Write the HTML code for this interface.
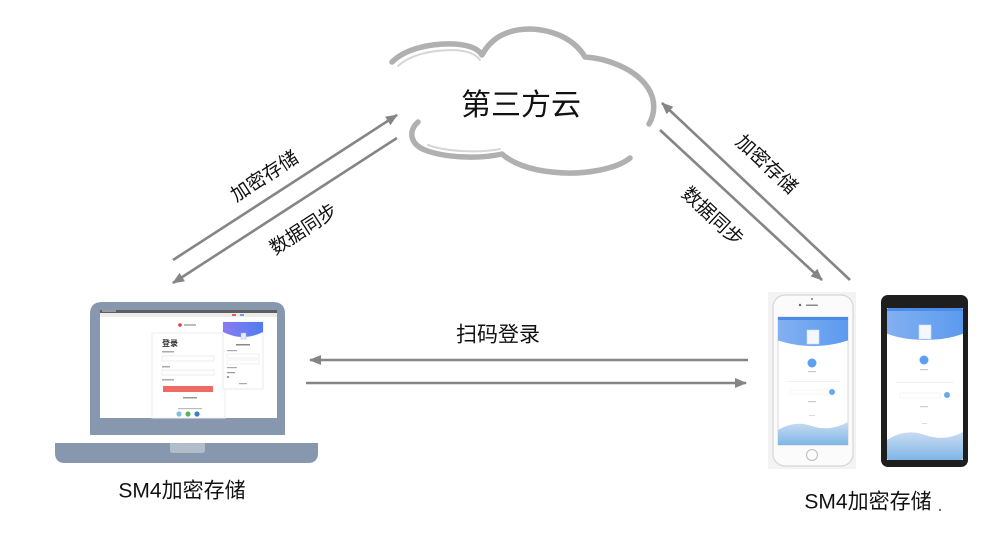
<!DOCTYPE html>
<html>
<head>
<meta charset="utf-8">
<style>
  html,body{margin:0;padding:0;background:#fff;}
  #wrap{position:relative;width:992px;height:554px;overflow:hidden;background:#fff;}
  svg{position:absolute;left:0;top:0;}
  .t{position:absolute;font-family:"Liberation Sans","Noto Sans CJK SC",sans-serif;color:#111;white-space:nowrap;line-height:1;}
  .c{transform:translate(-50%,-50%);}
</style>
</head>
<body>
<div id="wrap">
<svg width="992" height="554" viewBox="0 0 992 554" xmlns="http://www.w3.org/2000/svg">
  <defs>
    <marker id="ah" markerWidth="12" markerHeight="10" refX="11" refY="5" orient="auto" markerUnits="userSpaceOnUse">
      <path d="M0,0 L12,5 L0,10 z" fill="#858585"/>
    </marker>
    <linearGradient id="blueTop" x1="0" y1="0" x2="1" y2="0">
      <stop offset="0" stop-color="#8fb8f2"/>
      <stop offset="1" stop-color="#4f93ee"/>
    </linearGradient>
    <linearGradient id="wave" x1="0" y1="0" x2="0" y2="1">
      <stop offset="0" stop-color="#c9dcf2"/>
      <stop offset="1" stop-color="#7fb6e6"/>
    </linearGradient>
    <linearGradient id="card" x1="0" y1="0" x2="1" y2="0">
      <stop offset="0" stop-color="#8a7cf0"/>
      <stop offset="1" stop-color="#4f7cf0"/>
    </linearGradient>
    <clipPath id="scrW"><rect x="778" y="317" width="70" height="128"/></clipPath>
    <clipPath id="scrB"><rect x="887" y="308" width="76" height="152" rx="2"/></clipPath>
  </defs>

  <!-- Cloud outline -->
  <g fill="none" stroke="#b0b0b0" stroke-width="5.5" stroke-linecap="round" stroke-linejoin="round">
    <path d="M392,62 C405,49 430,43 455,44 C468,45 478,48 482,55 C492,36 510,29 530,29 C555,30 575,40 585,57 C605,58 635,68 648,88 C656,100 655,114 649,124"/>
    <path d="M630,158 C618,168 585,176 552,172 C530,170 512,163 502,154 C480,159 445,158 425,150 C410,144 408,131 418,122"/>
  </g>
  <g fill="none" stroke="#d6d6d6" stroke-width="2" stroke-linecap="round">
    <path d="M398,66 C410,55 430,50 455,50 C468,51 476,54 480,60"/>
    <path d="M500,149 C480,153 447,152 428,145"/>
  </g>

  <!-- Left diagonal arrows -->
  <line x1="173" y1="260" x2="397" y2="115" stroke="#858585" stroke-width="2.6" marker-end="url(#ah)"/>
  <line x1="397" y1="138" x2="173" y2="283" stroke="#858585" stroke-width="2.6" marker-end="url(#ah)"/>

  <!-- Right diagonal arrows -->
  <line x1="850" y1="280" x2="662" y2="103" stroke="#858585" stroke-width="2.6" marker-end="url(#ah)"/>
  <line x1="660" y1="130" x2="822" y2="280" stroke="#858585" stroke-width="2.6" marker-end="url(#ah)"/>

  <!-- Horizontal arrows -->
  <line x1="748" y1="360" x2="310" y2="360" stroke="#858585" stroke-width="2.6" marker-end="url(#ah)"/>
  <line x1="306" y1="383" x2="746" y2="383" stroke="#858585" stroke-width="2.6" marker-end="url(#ah)"/>

  <!-- Laptop -->
  <path d="M90,435 V314 Q90,302 102,302 H273 Q285,302 285,314 V435 Z" fill="#8797ae"/>
  <rect x="100" y="310" width="177" height="108" fill="#ffffff"/>
  <rect x="100" y="310" width="177" height="3" fill="#5e5e5e"/>
  <rect x="100" y="313" width="177" height="4" fill="#ececec"/>
  <rect x="102" y="310" width="14" height="2" fill="#9a9a9a"/>
  <rect x="232" y="314" width="4" height="2" fill="#e06060"/>
  <rect x="240" y="314" width="4" height="2" fill="#6aa0e0"/>
  <circle cx="180" cy="325" r="1.8" fill="#e04040"/>
  <rect x="184" y="324" width="12" height="2" fill="#bbbbbb"/>
  <rect x="152" y="333" width="73" height="85" fill="#ffffff" stroke="#eeeeee" stroke-width="1"/>
  <text x="162" y="346" font-family="Noto Sans CJK SC, sans-serif" font-size="8" font-weight="bold" fill="#333">登录</text>
  <rect x="162" y="351" width="12" height="1.5" fill="#aaaaaa"/>
  <rect x="162" y="356" width="52" height="5" fill="#ffffff" stroke="#e4e4e4" stroke-width="0.7"/>
  <rect x="162" y="366" width="8" height="1.5" fill="#aaaaaa"/>
  <rect x="162" y="370" width="52" height="5" fill="#ffffff" stroke="#e4e4e4" stroke-width="0.7"/>
  <rect x="162" y="379" width="12" height="1.5" fill="#aaaaaa"/>
  <rect x="163" y="386" width="50" height="6" fill="#ef6a63"/>
  <rect x="183" y="397" width="14" height="1.5" fill="#999999"/>
  <rect x="178" y="408" width="24" height="1.2" fill="#bbbbbb"/>
  <circle cx="179" cy="414" r="2.6" fill="#7fbde8"/>
  <circle cx="188" cy="414" r="2.6" fill="#5fb060"/>
  <circle cx="197" cy="414" r="2.6" fill="#3f7fc0"/>
  <rect x="223" y="322" width="40" height="67" fill="#ffffff" stroke="#e6e6e6" stroke-width="0.8"/>
  <path d="M223,322 H263 V332 Q243,342 223,332 Z" fill="url(#card)"/>
  <rect x="241" y="333" width="5" height="6" fill="#e8f0ff" stroke="#9bb2e6" stroke-width="0.5"/>
  <rect x="236" y="344" width="14" height="1.5" fill="#888888"/>
  <rect x="227" y="350" width="10" height="1.2" fill="#aaaaaa"/>
  <rect x="227" y="354" width="32" height="4" fill="#fff" stroke="#e6e6e6" stroke-width="0.6"/>
  <rect x="227" y="360" width="32" height="4" fill="#fff" stroke="#e6e6e6" stroke-width="0.6"/>
  <rect x="227" y="367" width="10" height="1.2" fill="#aaaaaa"/>
  <rect x="227" y="372" width="8" height="1.2" fill="#999999"/>
  <circle cx="228" cy="377" r="1" fill="#4f7cf0"/>
  <rect x="239" y="383" width="8" height="1.2" fill="#aaaaaa"/>
  <path d="M55,443 H318 V453 Q318,463 308,463 H65 Q55,463 55,453 Z" fill="#8797ae"/>
  <path d="M170,443 H205 V450 Q205,453 202,453 H173 Q170,453 170,450 Z" fill="#b2bdcc"/>

  <!-- White iPhone -->
  <rect x="768" y="292" width="88" height="177" fill="#f3f3f3"/>
  <rect x="773" y="295" width="80" height="171" rx="12" fill="#fbfbfb" stroke="#d6d6d6" stroke-width="1.2"/>
  <circle cx="812" cy="299" r="1" fill="#777"/>
  <rect x="806" y="304.5" width="12" height="1.5" rx="0.7" fill="#888"/>
  <circle cx="800" cy="305" r="1.2" fill="#666"/>
  <rect x="778" y="317" width="70" height="128" fill="#ffffff" stroke="#cfcfcf" stroke-width="0.8"/>
  <g clip-path="url(#scrW)">
    <ellipse cx="813" cy="318" rx="58" ry="28" fill="url(#blueTop)"/>
    <rect x="778" y="317" width="70" height="3" fill="#4a8ae8"/>
    <rect x="807" y="330" width="12" height="14" fill="#f3f8ff" stroke="#cfe0f6" stroke-width="0.6"/>
    <circle cx="812" cy="363" r="4.5" fill="#5d9ff0"/>
    <rect x="808" y="371" width="8" height="1.2" fill="#cccccc"/>
    <rect x="786" y="381" width="54" height="0.8" fill="#eeeeee"/>
    <rect x="790" y="390" width="38" height="4" fill="#fff" stroke="#eeeeee" stroke-width="0.5"/>
    <circle cx="832" cy="392" r="3" fill="#6aa8f0"/>
    <rect x="808" y="401" width="8" height="1.2" fill="#cccccc"/>
    <rect x="809" y="415" width="6" height="1" fill="#dddddd"/>
    <path d="M778,430 Q795,420 812,426 Q830,432 848,422 V445 H778 Z" fill="url(#wave)"/>
  </g>
  <circle cx="812" cy="455" r="5.5" fill="#fbfbfb" stroke="#bbbbbb" stroke-width="1"/>

  <!-- Black phone -->
  <rect x="881" y="295" width="87" height="172" rx="7" fill="#1e1e1e"/>
  <rect x="887" y="308" width="76" height="152" fill="#ffffff"/>
  <g clip-path="url(#scrB)">
    <ellipse cx="925" cy="310" rx="62" ry="30" fill="url(#blueTop)"/>
    <rect x="887" y="308" width="76" height="3" fill="#4a8ae8"/>
    <rect x="919" y="325" width="12" height="14" fill="#f3f8ff" stroke="#cfe0f6" stroke-width="0.6"/>
    <circle cx="924" cy="360" r="4.5" fill="#5d9ff0"/>
    <rect x="920" y="369" width="8" height="1.2" fill="#cccccc"/>
    <rect x="896" y="382" width="58" height="0.8" fill="#eeeeee"/>
    <rect x="900" y="393" width="40" height="5" fill="#fff" stroke="#eeeeee" stroke-width="0.5"/>
    <circle cx="947" cy="395" r="3" fill="#6aa8f0"/>
    <rect x="920" y="406" width="8" height="1.2" fill="#cccccc"/>
    <rect x="922" y="423" width="5" height="1" fill="#dddddd"/>
    <path d="M887,440 Q905,428 925,435 Q945,442 963,432 V460 H887 Z" fill="url(#wave)"/>
  </g>
  <circle cx="940" cy="510" r="1" fill="#444"/>
</svg>

<div class="t c" style="left:521px;top:106px;font-size:30px;">第三方云</div>
<div class="t c" style="left:265px;top:177px;font-size:19px;transform:translate(-50%,-50%) rotate(-33deg);">加密存储</div>
<div class="t c" style="left:304px;top:230px;font-size:19px;transform:translate(-50%,-50%) rotate(-33deg);">数据同步</div>
<div class="t c" style="left:766px;top:165px;font-size:19px;transform:translate(-50%,-50%) rotate(43deg);">加密存储</div>
<div class="t c" style="left:712px;top:217px;font-size:19px;transform:translate(-50%,-50%) rotate(43deg);">数据同步</div>
<div class="t c" style="left:498px;top:335px;font-size:21px;">扫码登录</div>
<div class="t c" style="left:182px;top:491px;font-size:21px;">SM4加密存储</div>
<div class="t c" style="left:868px;top:502px;font-size:21px;">SM4加密存储</div>
</div>
</body>
</html>
